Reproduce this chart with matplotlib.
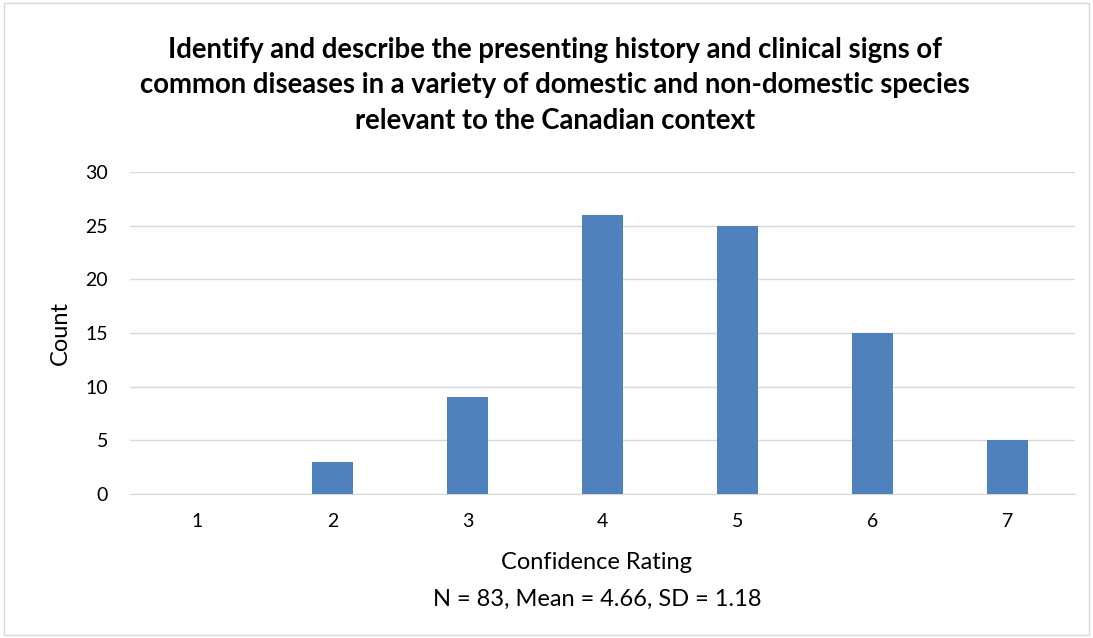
import matplotlib
matplotlib.use("Agg")
import matplotlib.pyplot as plt
from matplotlib.patches import Rectangle

categories = [1, 2, 3, 4, 5, 6, 7]
counts = [0, 3, 9, 26, 25, 15, 5]
yticks = [0, 5, 10, 15, 20, 25, 30]
title = ("Identify and describe the presenting history and clinical signs of\n"
         "common diseases in a variety of domestic and non-domestic species\n"
         "relevant to the Canadian context")
xlabel = "Confidence Rating"
ylabel = "Count"
subtitle = "N = 83, Mean = 4.66, SD = 1.18"

plt.rcParams['font.family'] = ['Lato', 'DejaVu Sans']

fig = plt.figure(figsize=(10.93, 6.38), dpi=100)
fig.patches.append(Rectangle((0.004, 0.004), 0.992, 0.992, transform=fig.transFigure,
                             fill=False, edgecolor='#d9d9d9', linewidth=1))
ax = fig.add_axes([0.119, 0.2257, 0.8645, 0.5047])
ax.bar(categories, counts, width=0.31, color='#4f81bd', zorder=3)
ax.set_xlim(0.5, 7.5)
ax.set_ylim(0, 30)
ax.set_yticks(yticks)
ax.set_xticks(categories)
ax.grid(axis='y', color='#d9d9d9', linewidth=1, zorder=0)
for s in ['top', 'right', 'left']:
    ax.spines[s].set_visible(False)
ax.spines['bottom'].set_color('#d9d9d9')
ax.tick_params(axis='both', length=0, labelsize=14, colors='#000000')
ax.tick_params(axis='y', pad=16)
ax.tick_params(axis='x', pad=14)
fig.text(0.546, 0.118, xlabel, ha='center', va='center', fontsize=17)
fig.text(0.055, 0.478, ylabel, ha='center', va='center', fontsize=17, rotation=90)
fig.text(0.508, 0.866, title, ha='center', va='center', fontsize=19.8, fontweight='bold',
         linespacing=1.45)
fig.text(0.546, 0.06, subtitle, ha='center', va='center', fontsize=17)
fig.savefig("out.png", dpi=100)
